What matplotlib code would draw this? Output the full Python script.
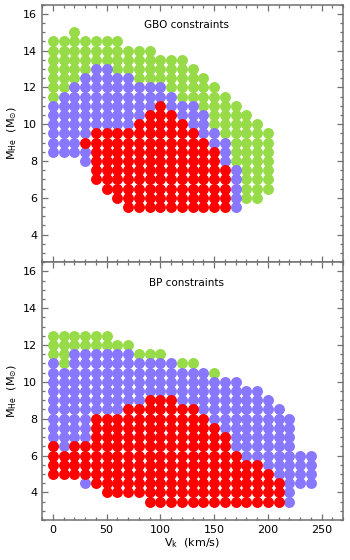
import numpy as np
import matplotlib
matplotlib.use('Agg')
import matplotlib.pyplot as plt
from matplotlib.ticker import MultipleLocator

# kick velocity grid (km/s)
vk_gbo = [0, 10, 20, 30, 40, 50, 60, 70, 80, 90, 100, 110, 120, 130, 140, 150, 160, 170, 180, 190, 200]
vk_bp = [0, 10, 20, 30, 40, 50, 60, 70, 80, 90, 100, 110, 120, 130, 140, 150, 160, 170, 180, 190, 200, 210, 220, 230, 240]

# GBO constraints: (low, high) of M_He per column, None = no point
gbo_green = [(11.5, 14.5), (12, 14.5), (12.5, 15), (13, 14.5), (13.5, 14.5), (13.5, 14.5), (13, 14.5),
             (13, 14), (12.5, 14), (12.5, 14), (12.5, 13.5), (12, 13.5), (11.5, 13.5), (11.5, 13),
             (11, 12.5), (10, 12), (9.5, 11.5), (8, 11), (6, 10.5), (6, 10), (6.5, 9.5)]
gbo_blue = [(8.5, 11), (8.5, 11.5), (8.5, 12), (9.5, 12.5), (10, 13), (10, 13), (10, 12.5),
            (10, 12.5), (10.5, 12), (11, 12), (11.5, 12), (11, 11.5), (10.5, 11), (10, 11),
            (9.5, 10.5), (9, 9.5), (8, 9), (5.5, 7.5), None, None, None]
gbo_red = [None, None, None, (9, 9), (7, 9.5), (6.5, 9.5), (6, 9.5), (5.5, 9.5), (5.5, 10),
           (5.5, 10.5), (5.5, 11), (5.5, 10.5), (5.5, 10), (5.5, 9.5), (5.5, 9), (5.5, 8.5),
           (5.5, 7.5), None, None, None, None]
gbo_blue_extra_vk = [30, 30]
gbo_blue_extra_m = [8.0, 8.5]

# BP constraints
bp_green = [(11.5, 12.5), (11, 12.5), (12, 12.5), (12, 12.5), (12, 12.5), (12, 12.5), (12, 12),
            (12, 12), (11.5, 11.5), (11.5, 11.5), (11.5, 11.5), None, (11, 11), (11, 11), None,
            (10.5, 10.5), None, None, None, None, None, None, None, None, None]
bp_blue = [(7, 11), (6.5, 10.5), (7, 11.5), (7, 11.5), (8.5, 11.5), (8.5, 11.5), (8.5, 11.5),
           (9, 11.5), (9, 11), (9.5, 11), (9.5, 11), (9.5, 11), (9, 10.5), (9, 10.5), (8.5, 10.5),
           (8, 10), (7.5, 10), (6.5, 10), (6, 9.5), (6, 9.5), (5.5, 9), (5, 8.5), (3.5, 8),
           (4.5, 6), (4.5, 6)]
bp_red = [(5, 6.5), (5, 6), (5, 6.5), (5, 6.5), (4.5, 8), (4, 8), (4, 8), (4, 8.5), (4, 8.5),
          (3.5, 9), (3.5, 9), (3.5, 9), (3.5, 8.5), (3.5, 8.5), (3.5, 8), (3.5, 7.5), (3.5, 7),
          (3.5, 6), (3.5, 5.5), (3.5, 5.5), (3.5, 5), (3.5, 4.5), None, None, None]
bp_blue_extra_vk = [30]
bp_blue_extra_m = [4.5]

GREEN = '#97dc48'
BLUE = '#8877ff'
RED = '#ff0000'


def expand(vk, ranges):
    xs, ys = [], []
    for v, r in zip(vk, ranges):
        if r is None:
            continue
        m = np.arange(r[0], r[1] + 0.25, 0.5)
        xs += [v] * len(m)
        ys += list(m)
    return xs, ys


def style(ax):
    ax.set_xlim(-10, 270)
    ax.set_ylim(2.5, 16.5)
    ax.xaxis.set_major_locator(MultipleLocator(50))
    ax.xaxis.set_minor_locator(MultipleLocator(10))
    ax.yaxis.set_major_locator(MultipleLocator(2))
    ax.yaxis.set_minor_locator(MultipleLocator(0.5))
    ax.set_yticks([4, 6, 8, 10, 12, 14, 16])
    ax.tick_params(which='both', direction='in', top=True, right=True, color='#707070',
                   labelsize=8, width=0.9)
    ax.tick_params(which='major', length=4.5)
    ax.tick_params(which='minor', length=2.2)
    for s in ax.spines.values():
        s.set_color('#707070')
        s.set_linewidth(1.1)
    ax.set_ylabel(r'M$_{\rm He}$  (M$_{\odot}$)', fontsize=8, labelpad=3)


fig = plt.figure(figsize=(3.5, 5.6), dpi=100)
ax1 = fig.add_axes([0.12, 0.532, 0.86, 0.4596])
ax2 = fig.add_axes([0.12, 0.0714, 0.86, 0.4606])

sz = 62
for ax, vk, g, b, r, bx, by, title in [
        (ax1, vk_gbo, gbo_green, gbo_blue, gbo_red, gbo_blue_extra_vk, gbo_blue_extra_m, 'GBO constraints'),
        (ax2, vk_bp, bp_green, bp_blue, bp_red, bp_blue_extra_vk, bp_blue_extra_m, 'BP constraints')]:
    x, y = expand(vk, g)
    ax.scatter(x, y, s=sz, c=GREEN, linewidths=0, zorder=2)
    x, y = expand(vk, b)
    ax.scatter(x + bx, y + by, s=sz, c=BLUE, linewidths=0, zorder=2)
    x, y = expand(vk, r)
    ax.scatter(x, y, s=sz, c=RED, linewidths=0, zorder=2)
    style(ax)
    ax.text(0.48, 0.92, title, transform=ax.transAxes, ha='center', va='center', fontsize=7.5)

ax1.tick_params(labelbottom=False)
ax2.set_xlabel(r'V$_{\rm k}$  (km/s)', fontsize=8, labelpad=1)

fig.savefig('out.png', dpi=100)
